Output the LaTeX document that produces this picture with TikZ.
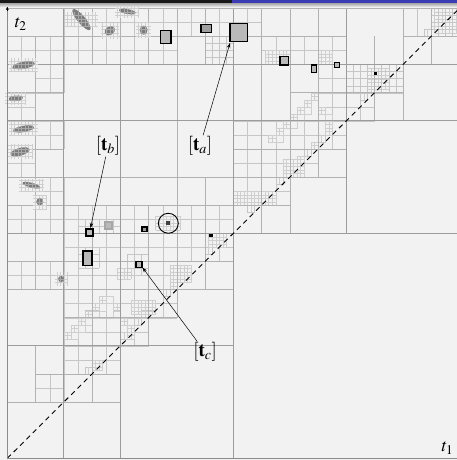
\documentclass[tikz,border=0pt]{standalone}
\usepackage{mathptmx}
\usetikzlibrary{arrows.meta}
\definecolor{bgc}{HTML}{F2F2F2}
\definecolor{lA}{HTML}{9C9C9C}
\definecolor{lB}{HTML}{B2B2B2}
\definecolor{lC}{HTML}{C6C6C6}
\definecolor{lD}{HTML}{CFCFCF}
\definecolor{blobc}{HTML}{7C7C7C}
\definecolor{hdrblue}{HTML}{3A3CB4}
\definecolor{axisc}{HTML}{8A8A8A}
\newcommand{\blobE}[5]{\draw[xfine,step=0.5] (#1-#3-0.5,#2-#4-0.5) grid (#1+#3+0.5,#2+#4+0.5);
  \fill[blobc,rotate around={#5:(#1,#2)}] (#1,#2) ellipse ({#3} and {#4});
  \begin{scope}
  \clip[rotate around={#5:(#1,#2)}] (#1,#2) ellipse ({#3} and {#4});
  \draw[draw=gray!68,line width=0.35pt,step=0.5] (#1-#3-0.5,#2-#4-0.5) grid (#1+#3+0.5,#2+#4+0.5);
  \end{scope}}
\begin{document}
\begin{tikzpicture}[x=7.0625pt,y=7.03pt,
  major/.style={draw=lA,line width=0.9pt},
  medium/.style={draw=lB,line width=0.6pt},
  fine/.style={draw=lC,line width=0.35pt},
  xfine/.style={draw=lD,line width=0.3pt},
  mbox/.style={draw=black,line width=1.1pt,fill=gray!55},
  lbl/.style={inner sep=1pt,font=\fontsize{19}{21}\selectfont},
  albl/.style={inner sep=1pt,font=\fontsize{18}{20}\selectfont},
  arr/.style={-{Stealth[length=5pt,width=3.5pt]},line width=0.5pt,black}]
\useasboundingbox (-1.0336,-0.2418) rectangle (63.67,65.19);
\clip (-1.0336,-0.2418) rectangle (63.67,65.19);
\fill[bgc] (-1.0336,-0.2418) rectangle (63.67,65.19);

% ---- 2-unit subdivisions
\foreach \a/\b/\c/\d in {8/56/16/64, 16/56/24/64, 24/60/32/64, 32/60/36/64, 36/56/40/60,
  40/56/48/60, 44/48/48/56, 48/52/52/56, 48/48/52/52, 52/52/56/56,
  4/52/8/56, 0/48/4/52, 4/44/8/48, 0/40/4/44, 4/36/8/40, 0/32/8/36, 0/56/8/60,
  8/32/16/36, 16/32/24/36, 24/32/32/36,
  8/24/16/32, 16/24/24/32, 24/28/32/32, 0/24/8/28,
  8/16/16/24, 16/20/20/24, 16/16/20/20, 20/20/24/24, 8/12/16/16, 4/8/8/12,
  32/40/40/48, 32/36/40/40, 40/40/44/44, 44/44/48/48, 40/44/44/48}
  {\draw[fine,step=2] (\a,\b) grid (\c,\d);}
\draw[fine] (58,60) -- (58,64);

% ---- diagonal staircase
\foreach \k in {12,13,17,18,19,20,21,23,24,25,29,30,31,35,36,37,39,40,41,42,43,44,45,46,51,52,53,54,60,61,62,63}
  {\draw[fine] (\k-1,\k) rectangle ++(1,1);
   \draw[xfine] (\k-0.5,\k) -- ++(0,1);}
\foreach \k in {13,18,20,24,30,36,40,42,44,46,52,54,61,63}
  {\draw[xfine,step=0.5] (\k-1,\k) grid ++(1,1);}

% ---- arms
\foreach \a/\b in {8/17,9/18,10/19,11/20,12/21,13/22,
  15/21,16/19,17/17,
  37/45,38/46,39/47,40/48,41/49,42/50,
  44/49,45/47,43/51}
  {\draw[fine] (\a,\b) rectangle ++(1,1);
   \draw[xfine,step=0.5] (\a,\b) grid ++(1,1);}
\foreach \a/\b in {9/17,10/18,11/19,12/20,13/21,14/22,15/20,16/18,
  38/45,39/46,40/47,41/48,42/49,44/48,45/48}
  {\draw[xfine] (\a,\b) rectangle ++(1,1);}

% ---- fine clusters
\foreach \a/\b/\c/\d in {12/12.5/13.5/14, 17.5/20.5/21/22.5, 23/25/26/27.5, 28.5/30/31/32,
  39/40/42/42.5, 51/52.5/54/55.5, 60.5/60.5/64/64, 15.5/25.5/17.5/27, 21/32.5/24.5/34.5,
  32/36/38/38, 36.5/56/40/58, 44/56/46/58}
  {\draw[xfine,step=0.5] (\a,\b) grid (\c,\d);}
\foreach \a/\b/\c/\d in {10/32/16/34, 17/26/20/29, 10/27/13/30, 48/52/56/56, 60/60/64/64, 28/56/32/60}
  {\draw[fine,step=1] (\a,\b) grid (\c,\d);}

% ---- medium lines
\foreach \a/\b/\c/\d in {24/20/24/64, 0/40/48/40, 40/32/40/64, 0/24/32/24, 0/8/16/8, 56/48/56/64,
  0/28/32/28, 0/36/40/36, 36/32/36/64, 0/60/48/60, 4/8/4/16, 4/24/4/60, 12/8/12/34,
  4/12/16/12, 8/20/24/20, 20/16/20/36, 28/24/28/40, 0/44/8/44, 32/44/48/44, 44/40/44/64,
  0/52/8/52, 40/52/56/52, 52/48/52/60, 60/56/60/64, 56/60/64/60,
  12/56/12/64, 16/56/16/64, 20/56/20/64, 28/56/28/64}
  {\draw[medium] (\a,\b) -- (\c,\d);}

% ---- major lines
\foreach \a/\b/\c/\d in {32/0/32/64, 0/32/64/32, 8/0/8/64, 0/56/64/56, 16/0/16/56,
  0/16/32/16, 0/48/64/48, 48/32/48/64}
  {\draw[major] (\a,\b) -- (\c,\d);}
\draw[medium] (0,64) -- (64,64);

% ---- blobs
\blobE{10.5}{62.4}{1.9}{0.55}{-50}
\blobE{14.5}{60.8}{0.8}{0.6}{30}
\blobE{19.3}{60.9}{0.55}{0.65}{0}
\blobE{17.0}{63.55}{1.2}{0.35}{-10}
\blobE{2.3}{55.9}{1.6}{0.5}{10}
\blobE{1.2}{51.2}{1.0}{0.4}{5}
\blobE{2.3}{46.85}{1.5}{0.45}{10}
\blobE{1.8}{43.6}{1.4}{0.55}{15}
\blobE{3.4}{38.85}{1.3}{0.35}{-15}
\blobE{4.6}{36.5}{0.5}{0.5}{0}
\blobE{7.6}{25.5}{0.4}{0.45}{0}

% ---- marked boxes
\draw[mbox] (31.53,59.26) rectangle (33.98,61.88);
\draw[mbox] (21.72,59.03) rectangle (23.18,60.83);
\draw[mbox,fill=gray!75] (27.43,60.6) rectangle (28.94,61.74);
\draw[mbox] (38.61,55.95) rectangle (39.79,57.13);
\draw[mbox] (43.1,54.85) rectangle (43.8,55.95);
\draw[mbox,line width=0.8pt] (46.3,55.56) rectangle (47.0,56.27);
\draw[mbox] (11.14,31.62) rectangle (12.13,32.62);
\draw[mbox,draw=gray!70] (13.83,32.62) rectangle (14.82,33.61);
\draw[mbox,fill=gray!80] (19.07,32.2) rectangle (19.78,32.9);
\draw[mbox] (10.72,27.4) rectangle (11.99,29.49);
\draw[mbox] (18.22,27.2) rectangle (19.07,28.05);
\fill[black!75] (22.5,33.15) rectangle (23.1,33.7);
\draw[black,line width=0.9pt] (22.8,33.43) circle [radius=10pt];
\fill[black] (28.6,31.5) rectangle (29.1,31.95);
\fill[black] (51.85,54.55) rectangle (52.3,55.0);

% ---- diagonal
\draw[black,line width=0.9pt,dash pattern=on 5pt off 4pt] (0,0) -- (64,64);

% ---- axes
\draw[axisc,line width=1.3pt] (0,0) -- (0,64.1);
\draw[axisc,line width=1.3pt] (0,0) -- (64,0);
\draw[black,line width=0.6pt,-{Stealth[length=3.5pt,width=3pt]}] (0,63.6) -- (0,64.25);

% ---- header
\fill[black!90] (-1.1,64.76) rectangle (31.8,65.3);
\fill[hdrblue] (31.8,64.76) rectangle (64,65.3);
\shade[top color=gray!70,bottom color=gray!15] (-1.1,64.2) rectangle (64,64.76);

% ---- labels and arrows
\node[albl] (t2) at (1.9,61.8) {$t_2$};
\node[albl] (t1) at (62.3,1.4) {$t_1$};
\node[lbl] (tb) at (14.26,44.42) {$[\mathbf{t}_b]$};
\node[lbl] (ta) at (27.28,44.42) {$[\mathbf{t}_a]$};
\node[lbl] (tc) at (28.0,15.12) {$[\mathbf{t}_c]$};
\coordinate (tbtip) at (11.78,32.76);
\coordinate (tatip) at (31.53,59.07);
\coordinate (tctip) at (19.14,27.14);
\draw[arr] (tb) -- (tbtip);
\draw[arr] (ta) -- (tatip);
\draw[arr] (tc) -- (tctip);
\end{tikzpicture}
\end{document}
